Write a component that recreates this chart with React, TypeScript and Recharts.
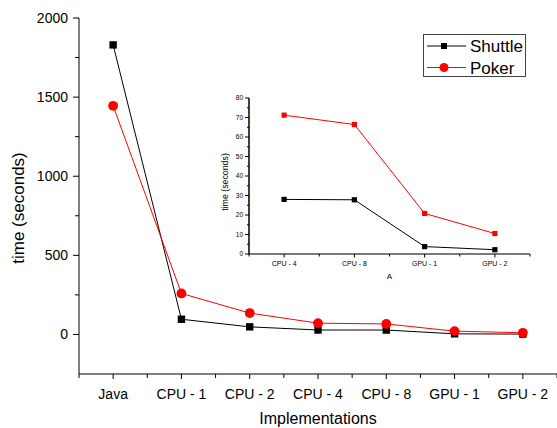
import React from 'react';
import { LineChart, Line, XAxis, YAxis, Label } from 'recharts';

const FONT = '"Liberation Sans", Arial, sans-serif';

// Main chart data
const categories = ['Java', 'CPU - 1', 'CPU - 2', 'CPU - 4', 'CPU - 8', 'GPU - 1', 'GPU - 2'];
const shuttle = [1830, 96, 48, 28.0, 27.8, 3.8, 2.2];
const poker = [1445, 259, 135, 71.2, 66.4, 20.8, 10.5];
const mainYTicks = [0, 250, 500, 750, 1000, 1250, 1500, 1750, 2000];
const mainYLabelStep = 500;
const seriesNames = ['Shuttle', 'Poker'];

// Inset chart data
const insetCategories = ['CPU - 4', 'CPU - 8', 'GPU - 1', 'GPU - 2'];
const insetShuttle = [28.0, 27.8, 3.8, 2.2];
const insetPoker = [71.2, 66.4, 20.8, 10.5];
const insetYTicks = [0, 5, 10, 15, 20, 25, 30, 35, 40, 45, 50, 55, 60, 65, 70, 75, 80];
const insetYLabelStep = 10;

const mainData = categories.map((c, i) => ({ x: i, name: c, shuttle: shuttle[i], poker: poker[i] }));
const insetData = insetCategories.map((c, i) => ({ x: i, name: c, shuttle: insetShuttle[i], poker: insetPoker[i] }));

const halfTicks = (n: number) => {
  const t: number[] = [];
  for (let i = 0; i <= n * 2; i++) t.push(-0.5 + i * 0.5);
  return t;
};

const MainXTick = (props: any) => {
  const { x, y, payload } = props;
  const v = payload.value;
  const major = Number.isInteger(v);
  return (
    <g>
      <line x1={x} x2={x} y1={y} y2={y + (major ? 5 : 4)} stroke="#000" strokeWidth={1} />
      {major && (
        <text x={x} y={y + 25} textAnchor="middle" fontSize={14} fontFamily={FONT} fill="#000">
          {categories[v]}
        </text>
      )}
    </g>
  );
};

const MainYTick = (props: any) => {
  const { x, y, payload } = props;
  const v = payload.value;
  const major = v % mainYLabelStep === 0;
  return (
    <g>
      <line x1={x - (major ? 6 : 4)} x2={x} y1={y} y2={y} stroke="#000" strokeWidth={1} />
      {major && (
        <text x={x - 11} y={y + 5} textAnchor="end" fontSize={14} fontFamily={FONT} fill="#000">
          {v}
        </text>
      )}
    </g>
  );
};

const InsetXTick = (props: any) => {
  const { x, y, payload } = props;
  const v = payload.value;
  const major = Number.isInteger(v);
  return (
    <g>
      <line x1={x} x2={x} y1={y} y2={y + (major ? 3.5 : 2.5)} stroke="#000" strokeWidth={1} />
      {major && (
        <text x={x} y={y + 11.5} textAnchor="middle" fontSize={7} fontFamily={FONT} fill="#000">
          {insetCategories[v]}
        </text>
      )}
    </g>
  );
};

const InsetYTick = (props: any) => {
  const { x, y, payload } = props;
  const v = payload.value;
  const major = v % insetYLabelStep === 0;
  return (
    <g>
      <line x1={x - (major ? 4 : 2)} x2={x} y1={y} y2={y} stroke="#000" strokeWidth={1} />
      {major && (
        <text x={x - 6} y={y + 2.3} textAnchor="end" fontSize={6.5} fontFamily={FONT} fill="#000">
          {v}
        </text>
      )}
    </g>
  );
};

const square = (size: number, color: string, prefix: string) => (p: any) => (
  <rect key={`${prefix}-${p.index}`} x={p.cx - size / 2} y={p.cy - size / 2} width={size} height={size} fill={color} />
);
const circle = (r: number, color: string, prefix: string) => (p: any) => (
  <circle key={`${prefix}-${p.index}`} cx={p.cx} cy={p.cy} r={r} fill={color} />
);

const LegendBox = () => (
  <div
    style={{
      position: 'absolute',
      left: 423,
      top: 34,
      width: 103,
      height: 43,
      border: '1px solid #444',
      background: '#fff',
      boxSizing: 'border-box',
      fontFamily: FONT,
    }}
  >
    <svg width={101} height={41} style={{ display: 'block' }}>
      <line x1={3} x2={42} y1={11} y2={11} stroke="#000" strokeWidth={1} />
      <rect x={17} y={8} width={6} height={6} fill="#000" />
      <text x={46} y={17} fontSize={17} fontFamily={FONT} fill="#000">{seriesNames[0]}</text>
      <line x1={3} x2={42} y1={32.5} y2={32.5} stroke="#f00" strokeWidth={1} />
      <circle cx={20} cy={32.5} r={4.5} fill="#f00" />
      <text x={46} y={38.5} fontSize={17} fontFamily={FONT} fill="#000">{seriesNames[1]}</text>
    </svg>
  </div>
);

export default function App() {
  return (
    <div style={{ position: 'absolute', left: 0, top: 0, width: 557, height: 428, background: '#fff' }}>
      <div style={{ position: 'absolute', left: 0, top: 0 }}>
        <LineChart
          width={557}
          height={428}
          data={mainData}
          margin={{ top: 18, right: 0, bottom: 0, left: 0 }}
        >
          <XAxis
            dataKey="x"
            type="number"
            domain={[-0.5, categories.length - 0.5]}
            ticks={halfTicks(categories.length)}
            interval={0}
            height={54}
            tickSize={0}
            tickMargin={0}
            tickLine={false}
            tick={MainXTick}
            axisLine={{ stroke: '#000', strokeWidth: 1.2 }}
          >
            <Label
              value="Implementations"
              position="insideBottom"
              offset={4}
              style={{ fontSize: 16, fontFamily: FONT, fill: '#000' }}
            />
          </XAxis>
          <YAxis
            type="number"
            domain={[-250, 2000]}
            ticks={mainYTicks}
            interval={0}
            width={79}
            tickSize={0}
            tickMargin={0}
            tickLine={false}
            tick={MainYTick}
            axisLine={{ stroke: '#000', strokeWidth: 1 }}
          >
            <Label
              content={() => (
                <text
                  x={24}
                  y={208}
                  transform="rotate(-90, 24, 208)"
                  textAnchor="middle"
                  fontSize={17}
                  fontFamily={FONT}
                  fill="#000"
                >
                  time (seconds)
                </text>
              )}
            />
          </YAxis>
          <Line
            dataKey="shuttle"
            name={seriesNames[0]}
            stroke="#000"
            strokeWidth={1}
            dot={square(7.4, '#000', 'ms')}
            activeDot={false}
            isAnimationActive={false}
          />
          <Line
            dataKey="poker"
            name={seriesNames[1]}
            stroke="#f00"
            strokeWidth={1}
            dot={circle(4.9, '#f00', 'mp')}
            activeDot={false}
            isAnimationActive={false}
          />
        </LineChart>
      </div>

      <LegendBox />

      <div style={{ position: 'absolute', left: 220, top: 85, width: 320, height: 200 }}>
        <LineChart
          width={320}
          height={200}
          data={insetData}
          margin={{ top: 13, right: 10, bottom: 0, left: 0 }}
        >
          <XAxis
            dataKey="x"
            type="number"
            domain={[-0.5, insetCategories.length - 0.5]}
            ticks={halfTicks(insetCategories.length)}
            interval={0}
            height={31}
            tickSize={0}
            tickMargin={0}
            tickLine={false}
            tick={InsetXTick}
            axisLine={{ stroke: '#7a7a7a', strokeWidth: 2 }}
          >
            <Label
              value="A"
              position="insideBottom"
              offset={6}
              style={{ fontSize: 8, fontFamily: FONT, fill: '#000' }}
            />
          </XAxis>
          <YAxis
            type="number"
            domain={[0, 80]}
            ticks={insetYTicks}
            interval={0}
            width={29}
            tickSize={0}
            tickMargin={0}
            tickLine={false}
            tick={InsetYTick}
            axisLine={{ stroke: '#000', strokeWidth: 1.5 }}
          >
            <Label
              content={() => (
                <text
                  x={8}
                  y={97}
                  transform="rotate(-90, 8, 97)"
                  textAnchor="middle"
                  fontSize={8.8}
                  fontFamily={FONT}
                  fill="#000"
                >
                  time (seconds)
                </text>
              )}
            />
          </YAxis>
          <Line
            dataKey="shuttle"
            stroke="#000"
            strokeWidth={1}
            dot={square(5.2, '#000', 'is')}
            activeDot={false}
            isAnimationActive={false}
          />
          <Line
            dataKey="poker"
            stroke="#f00"
            strokeWidth={1}
            dot={square(5.2, '#f00', 'ip')}
            activeDot={false}
            isAnimationActive={false}
          />
        </LineChart>
      </div>
    </div>
  );
}
